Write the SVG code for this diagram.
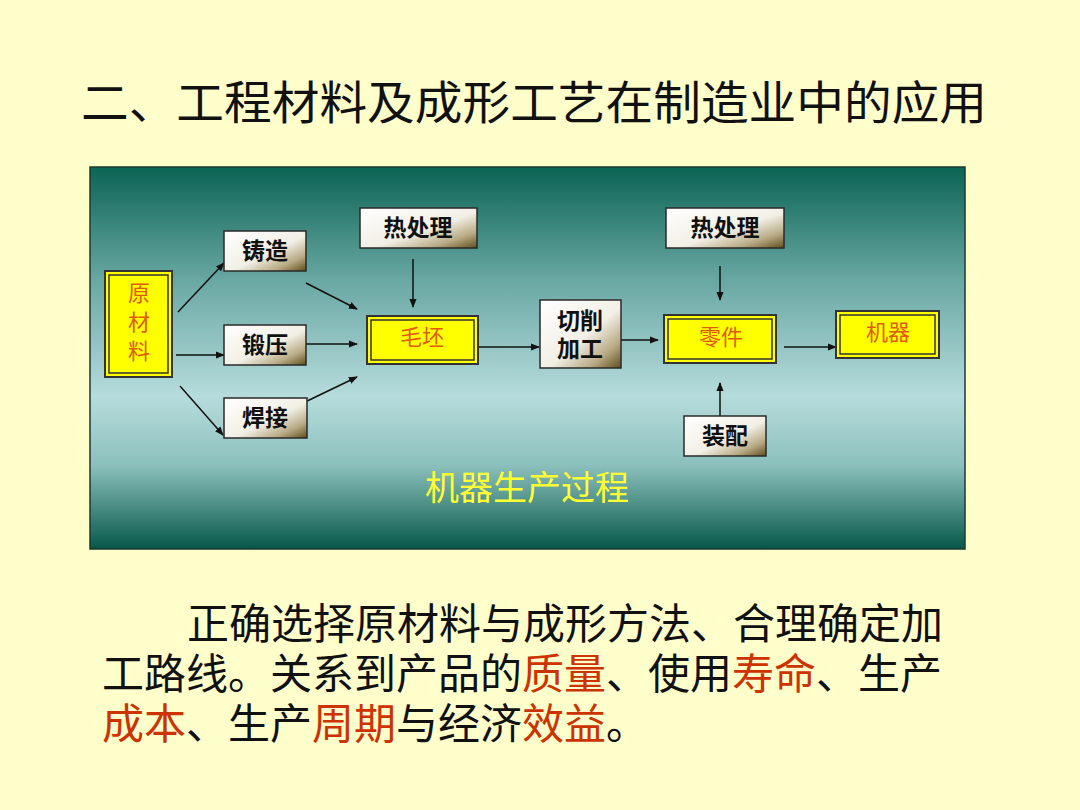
<svg xmlns="http://www.w3.org/2000/svg" width="1080" height="810" viewBox="0 0 1080 810">
<defs>
<linearGradient id="panel" x1="0" y1="0" x2="0" y2="1">
<stop offset="0" stop-color="#0b6454"/>
<stop offset="0.3" stop-color="#6aa8a4"/>
<stop offset="0.6" stop-color="#b6dcdc"/>
<stop offset="0.78" stop-color="#8cc0bc"/>
<stop offset="1" stop-color="#07584a"/>
</linearGradient>
<linearGradient id="gbox" x1="0" y1="0" x2="1" y2="1">
<stop offset="0" stop-color="#ffffff"/>
<stop offset="0.55" stop-color="#f2efe6"/>
<stop offset="0.8" stop-color="#b8aa84"/>
<stop offset="1" stop-color="#5e4c1c"/>
</linearGradient>
<marker id="ah" viewBox="0 0 10 10" refX="9" refY="5" markerWidth="9" markerHeight="9" markerUnits="userSpaceOnUse" orient="auto">
<path d="M0,1 L10,5 L0,9 z" fill="#111"/>
</marker>
</defs>
<style>
.gb{fill:url(#gbox);stroke:#2a2a2a;stroke-width:1.5}
.yo{fill:#ffff00;stroke:#333;stroke-width:2}
.yi{fill:#ffff00;stroke:#333;stroke-width:1.5}
.bt{font-family:"Noto Sans CJK SC",sans-serif;font-weight:bold;font-size:23px;fill:#111;text-anchor:middle}
.yt{font-family:"Noto Sans CJK SC",sans-serif;font-size:22px;fill:#e05a10;text-anchor:middle}
.ln{stroke:#111;stroke-width:1.5;fill:none;marker-end:url(#ah)}
.para{font-family:"Noto Sans CJK SC",sans-serif;font-size:42px;fill:#111}
.red{fill:#cc3300}
</style>
<rect x="0" y="0" width="1080" height="810" fill="#ffffcc"/>
<text x="534" y="119" font-family="Noto Sans CJK SC,sans-serif" font-size="46" fill="#111" text-anchor="middle" textLength="906" lengthAdjust="spacingAndGlyphs">二、工程材料及成形工艺在制造业中的应用</text>
<rect x="90" y="167" width="875" height="382" fill="url(#panel)" stroke="#1a3a30" stroke-width="1.5"/>
<g id="connectors">
<line class="ln" x1="178" y1="312" x2="224" y2="263"/>
<line class="ln" x1="176" y1="355" x2="224" y2="355"/>
<line class="ln" x1="180" y1="386" x2="223" y2="435"/>
<line class="ln" x1="306" y1="283" x2="357" y2="309"/>
<line class="ln" x1="301" y1="344" x2="357" y2="344"/>
<line class="ln" x1="303" y1="403" x2="357" y2="377"/>
<line class="ln" x1="413" y1="259" x2="413" y2="307"/>
<line class="ln" x1="478" y1="347" x2="539" y2="347"/>
<line class="ln" x1="621" y1="340" x2="658" y2="340"/>
<line class="ln" x1="720" y1="266" x2="720" y2="300"/>
<line class="ln" x1="720" y1="416" x2="720" y2="383"/>
<line class="ln" x1="784" y1="347" x2="836" y2="347"/>
</g>
<g id="raw">
<rect class="yo" x="105" y="271" width="67" height="106"/>
<rect class="yi" x="109" y="275" width="59" height="98"/>
<text class="yt" x="139" y="301">原</text>
<text class="yt" x="139" y="330">材</text>
<text class="yt" x="139" y="359">料</text>
</g>
<g id="casting"><rect class="gb" x="224" y="231" width="82" height="40"/><text class="bt" x="265" y="259">铸造</text></g>
<g id="forging"><rect class="gb" x="224" y="325" width="82" height="40"/><text class="bt" x="265" y="353">锻压</text></g>
<g id="welding"><rect class="gb" x="224" y="398" width="83" height="40"/><text class="bt" x="265" y="426">焊接</text></g>
<g id="heat1"><rect class="gb" x="360" y="208" width="117" height="40"/><text class="bt" x="418" y="236">热处理</text></g>
<g id="blank">
<rect class="yo" x="367" y="316" width="111" height="48"/>
<rect class="yi" x="371" y="320" width="103" height="40"/>
<text class="yt" x="422" y="345">毛坯</text>
</g>
<g id="cutting"><rect class="gb" x="540" y="300" width="81" height="68"/><text class="bt" x="580" y="329">切削</text><text class="bt" x="580" y="357">加工</text></g>
<g id="heat2"><rect class="gb" x="666" y="208" width="118" height="40"/><text class="bt" x="725" y="236">热处理</text></g>
<g id="part">
<rect class="yo" x="664" y="315" width="112" height="48"/>
<rect class="yi" x="668" y="319" width="104" height="40"/>
<text class="yt" x="721" y="345">零件</text>
</g>
<g id="machine">
<rect class="yo" x="836" y="311" width="103" height="47"/>
<rect class="yi" x="840" y="315" width="95" height="39"/>
<text class="yt" x="888" y="340">机器</text>
</g>
<g id="assembly"><rect class="gb" x="684" y="416" width="82" height="40"/><text class="bt" x="725" y="444">装配</text></g>
<text x="527" y="500" font-family="Noto Sans CJK SC,sans-serif" font-size="34" fill="#ffff33" text-anchor="middle">机器生产过程</text>
<text class="para" x="187" y="639">正确选择原材料与成形方法、合理确定加</text>
<text class="para" x="102" y="689">工路线。关系到产品的<tspan class="red">质量</tspan>、使用<tspan class="red">寿命</tspan>、生产</text>
<text class="para" x="102" y="739"><tspan class="red">成本</tspan>、生产<tspan class="red">周期</tspan>与经济<tspan class="red">效益</tspan>。</text>
</svg>
